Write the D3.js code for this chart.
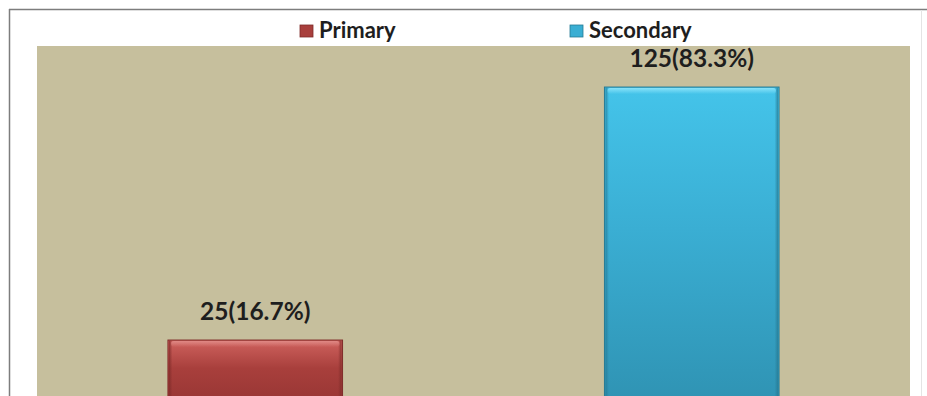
<!DOCTYPE html>
<html>
<head>
<meta charset="utf-8">
<script src="https://cdn.jsdelivr.net/npm/d3@7"></script>
<style>
  html, body { margin: 0; padding: 0; background: #fff; }
  svg { display: block; }
</style>
</head>
<body>
<svg id="chart" width="927" height="396"></svg>
<script>
// Education level counts
const categories = ["Primary", "Secondary"];
const counts = [25, 125];
const labels = ["25(16.7%)", "125(83.3%)"];
const seriesColors = {
  Primary:   { top: "#cf625e", body: "#a83f3c", bottom: "#983634", edge: "#7e2b29", light: "#e08a86" },
  Secondary: { top: "#44c4ea", body: "#3aaed3", bottom: "#2f93b3", edge: "#267a94", light: "#8be3fa" }
};

const svg = d3.select("#chart");
const font = "Lato, 'Open Sans', sans-serif";

// chart frame
svg.append("rect").attr("x", 9).attr("y", 9).attr("width", 912).attr("height", 400)
  .attr("fill", "#fff").attr("stroke", "none");
svg.append("line").attr("x1", 9).attr("y1", 9.5).attr("x2", 927).attr("y2", 9.5)
  .attr("stroke", "#7d7d7d").attr("stroke-width", 1.5);
svg.append("line").attr("x1", 9.5).attr("y1", 9).attr("x2", 9.5).attr("y2", 396)
  .attr("stroke", "#7d7d7d").attr("stroke-width", 1.5);
svg.append("line").attr("x1", 921.5).attr("y1", 10).attr("x2", 921.5).attr("y2", 396)
  .attr("stroke", "#e4e4e4").attr("stroke-width", 1);

// plot area
const plot = { left: 37, right: 910, top: 46, bottom: 420 };
svg.append("rect")
  .attr("x", plot.left).attr("y", plot.top)
  .attr("width", plot.right - plot.left).attr("height", plot.bottom - plot.top)
  .attr("fill", "#c6bf9d");

const x = d3.scaleBand().domain(categories)
  .range([plot.left, plot.right]).paddingInner(0.6).paddingOuter(0.3);
const y = d3.scaleLinear().domain([0, 140]).range([403.3, 49.1]);

// gradients per series
const defs = svg.append("defs");
categories.forEach(c => {
  const col = seriesColors[c];
  const g = defs.append("linearGradient").attr("id", "grad-" + c)
    .attr("x1", 0).attr("y1", 0).attr("x2", 0).attr("y2", 1);
  g.append("stop").attr("offset", "0%").attr("stop-color", col.top);
  g.append("stop").attr("offset", "45%").attr("stop-color", col.body);
  g.append("stop").attr("offset", "100%").attr("stop-color", col.bottom);
  const h = defs.append("linearGradient").attr("id", "hl-" + c)
    .attr("x1", 0).attr("y1", 0).attr("x2", 0).attr("y2", 1);
  h.append("stop").attr("offset", "0%").attr("stop-color", col.light).attr("stop-opacity", 0.95);
  h.append("stop").attr("offset", "100%").attr("stop-color", col.light).attr("stop-opacity", 0);
  const s = defs.append("linearGradient").attr("id", "side-" + c)
    .attr("x1", 0).attr("y1", 0).attr("x2", 1).attr("y2", 0);
  s.append("stop").attr("offset", "0%").attr("stop-color", col.edge).attr("stop-opacity", 0.8);
  s.append("stop").attr("offset", "2%").attr("stop-color", col.edge).attr("stop-opacity", 0);
  s.append("stop").attr("offset", "98%").attr("stop-color", col.edge).attr("stop-opacity", 0);
  s.append("stop").attr("offset", "100%").attr("stop-color", col.edge).attr("stop-opacity", 0.8);
});

const data = categories.map((c, i) => ({ cat: c, value: counts[i], label: labels[i] }));

const bars = svg.append("g").selectAll("g").data(data).join("g");
bars.append("rect")
  .attr("x", d => x(d.cat)).attr("y", d => y(d.value))
  .attr("width", x.bandwidth()).attr("height", d => y(0) - y(d.value))
  .attr("fill", d => `url(#grad-${d.cat})`)
  .attr("stroke", d => seriesColors[d.cat].edge).attr("stroke-width", 1);
bars.append("rect")
  .attr("x", d => x(d.cat) + 1).attr("y", d => y(d.value) + 0.5)
  .attr("width", x.bandwidth() - 2).attr("height", d => y(0) - y(d.value))
  .attr("fill", d => `url(#side-${d.cat})`);
bars.append("rect")
  .attr("x", d => x(d.cat) + 3).attr("y", d => y(d.value) + 1)
  .attr("width", x.bandwidth() - 6).attr("height", 6)
  .attr("rx", 3)
  .attr("fill", d => `url(#hl-${d.cat})`);

// value labels
svg.append("g").selectAll("text").data(data).join("text")
  .attr("x", d => x(d.cat) + x.bandwidth() / 2)
  .attr("y", d => y(d.value) - 20)
  .attr("text-anchor", "middle")
  .attr("font-family", font).attr("font-weight", "bold").attr("font-size", 24.5)
  .attr("fill", "#1e1e1e")
  .text(d => d.label);

// legend
const legendX = { Primary: 300, Secondary: 570 };
const legend = svg.append("g").selectAll("g").data(categories).join("g")
  .attr("transform", c => `translate(${legendX[c]},25)`);
legend.append("rect").attr("x", 0).attr("y", 0).attr("width", 13).attr("height", 12)
  .attr("fill", c => seriesColors[c].body)
  .attr("stroke", c => seriesColors[c].edge).attr("stroke-width", 0.8);
legend.append("text").attr("x", 19).attr("y", 13)
  .attr("font-family", font).attr("font-weight", "bold").attr("font-size", 22)
  .attr("fill", "#1e1e1e")
  .text(c => c);
</script>
</body>
</html>
